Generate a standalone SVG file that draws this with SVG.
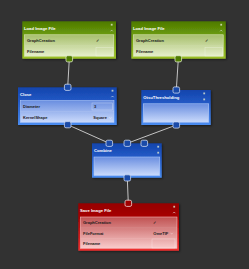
<svg xmlns="http://www.w3.org/2000/svg" width="249" height="269" viewBox="0 0 249 269">
<defs>
<linearGradient id="gFrame" x1="0" y1="0" x2="0" y2="1"><stop offset="0" stop-color="#4d7a00"/><stop offset="0.35" stop-color="#6a9a0c"/><stop offset="1" stop-color="#9cc028"/></linearGradient>
<linearGradient id="gPanel" x1="0" y1="0" x2="0" y2="1"><stop offset="0" stop-color="#a7bf6c"/><stop offset="1" stop-color="#e6efcc"/></linearGradient>
<linearGradient id="bFrame" x1="0" y1="0" x2="0" y2="1"><stop offset="0" stop-color="#1244ac"/><stop offset="0.35" stop-color="#2258c4"/><stop offset="1" stop-color="#4a8cf0"/></linearGradient>
<linearGradient id="bPanel" x1="0" y1="0" x2="0" y2="1"><stop offset="0" stop-color="#6a8ee0"/><stop offset="1" stop-color="#cadafb"/></linearGradient>
<linearGradient id="rFrame" x1="0" y1="0" x2="0" y2="1"><stop offset="0" stop-color="#960000"/><stop offset="0.3" stop-color="#a80404"/><stop offset="1" stop-color="#f03030"/></linearGradient>
<linearGradient id="rPanel" x1="0" y1="0" x2="0" y2="1"><stop offset="0" stop-color="#c05252"/><stop offset="1" stop-color="#f9cccc"/></linearGradient>
<filter id="sh" x="-10%" y="-10%" width="130%" height="130%"><feDropShadow dx="1" dy="1" stdDeviation="1" flood-color="#000" flood-opacity="0.5"/></filter>
</defs>
<style>
.title{font-family:"Liberation Sans",Arial,sans-serif;font-size:4.2px;font-weight:bold;fill:#fff}
.lbl{font-family:"Liberation Sans",Arial,sans-serif;font-size:4px;font-weight:bold;fill:#1a1a1a}
.val{font-family:"Liberation Sans",Arial,sans-serif;font-size:4px;font-weight:bold;fill:#1a1a1a}
.ico{fill:#dfe6d0;opacity:0.8}
.wire{stroke:#c4c4c4;stroke-width:1;fill:none}
.gp{fill:#4f7c02;stroke:#dfe8cc;stroke-width:0.8}
.bp{fill:#1a4aa8;stroke:#cdd9f0;stroke-width:0.8}
.rp{fill:#a00000;stroke:#f0d6d6;stroke-width:0.8}
.gpn{fill:url(#gPanel);stroke:#dfeabf;stroke-width:0.6}
.bpn{fill:url(#bPanel);stroke:#b0c8f8;stroke-width:0.6}
.rpn{fill:url(#rPanel);stroke:#f4b8b8;stroke-width:0.6}
.box{fill:none;stroke:#ffffff;stroke-opacity:0.5;stroke-width:0.5}
</style>
<rect width="249" height="269" fill="#323232"/>
<g id="connectors">
<line class="wire" x1="69.3" y1="59" x2="67.7" y2="87.3"/>
<line class="wire" x1="178.3" y1="59" x2="176.3" y2="90"/>
<line class="wire" x1="67.7" y1="124.7" x2="109.3" y2="143.3"/>
<line class="wire" x1="176.3" y1="125" x2="127.3" y2="143.3"/>
<line class="wire" x1="127.3" y1="178" x2="128.3" y2="203.3"/>
</g>
<g id="load1">
<rect x="22.3" y="21.3" width="93.7" height="37.4" fill="url(#gFrame)" filter="url(#sh)"/>
<rect x="24.5" y="34.8" width="89.3" height="21.4" class="gpn"/>
<text class="title" x="24" y="30.2">Load Image File</text>
<rect class="ico" x="110.8" y="23.8" width="1.8" height="1.8"/>
<path d="M110.6 31.3 L111.7 30.1 L112.8 31.3" stroke="#dfe6d0" stroke-width="0.6" fill="none"/>
<text class="lbl" x="27" y="41.9">GraphCreation</text>
<text class="val" x="96" y="41.9">✓</text>
<line x1="24.5" y1="45.8" x2="113.8" y2="45.8" stroke="#ffffff" stroke-opacity="0.25" stroke-width="0.4"/>
<text class="lbl" x="27" y="53.2">Filename</text>
<rect class="box" x="96" y="47.5" width="17" height="8.5"/>
<rect class="gp" x="66" y="55.7" width="6.6" height="6.2" rx="1.6"/>
</g>
<g id="load2">
<rect x="131.3" y="21.3" width="94.4" height="37.4" fill="url(#gFrame)" filter="url(#sh)"/>
<rect x="133.5" y="34.8" width="89.7" height="21.4" class="gpn"/>
<text class="title" x="133" y="30.2">Load Image File</text>
<rect class="ico" x="220.3" y="23.8" width="1.8" height="1.8"/>
<path d="M220.1 31.3 L221.2 30.1 L222.3 31.3" stroke="#dfe6d0" stroke-width="0.6" fill="none"/>
<text class="lbl" x="136" y="41.9">GraphCreation</text>
<text class="val" x="205" y="41.9">✓</text>
<line x1="133.5" y1="45.8" x2="223.2" y2="45.8" stroke="#ffffff" stroke-opacity="0.25" stroke-width="0.4"/>
<text class="lbl" x="136" y="53.2">Filename</text>
<rect class="box" x="205" y="47.5" width="17.5" height="8.5"/>
<rect class="gp" x="175" y="55.7" width="6.6" height="6.2" rx="1.6"/>
</g>
<g id="close">
<rect x="18" y="87.3" width="98.7" height="37.7" fill="url(#bFrame)" filter="url(#sh)"/>
<rect x="20.3" y="100.5" width="93.7" height="21.8" class="bpn"/>
<text class="title" x="20" y="96.1">Close</text>
<rect class="ico" x="111.6" y="89.8" width="1.8" height="1.8"/>
<path d="M111.4 97.2 L112.5 96 L113.6 97.2" stroke="#dfe6f4" stroke-width="0.6" fill="none"/>
<text class="lbl" x="23" y="108.1">Diameter</text>
<rect class="box" x="92" y="103" width="20.7" height="7"/>
<text class="val" x="94" y="108.1">3</text>
<line x1="20.3" y1="111.6" x2="114" y2="111.6" stroke="#ffffff" stroke-opacity="0.25" stroke-width="0.4"/>
<text class="lbl" x="23" y="119.1">KernelShape</text>
<text class="val" x="93.3" y="119.1">Square</text>
<path d="M109.3 117.2 L110.4 118.6 L111.5 117.2" stroke="#ffffff" stroke-opacity="0.6" stroke-width="0.5" fill="none"/>
<rect class="bp" x="64.4" y="84.2" width="6.6" height="6.2" rx="1.6"/>
<rect class="bp" x="64.4" y="121.6" width="6.6" height="6.2" rx="1.6"/>
</g>
<g id="otsu">
<rect x="141.3" y="90" width="69.4" height="35" fill="url(#bFrame)" filter="url(#sh)"/>
<rect x="143.3" y="103.8" width="65.4" height="18.4" class="bpn"/>
<text class="title" x="143.3" y="99.4">OtsuThresholding</text>
<rect class="ico" x="203.3" y="92.5" width="1.8" height="1.8"/>
<rect class="ico" x="203.3" y="98.5" width="1.8" height="1.8"/>
<rect class="bp" x="173" y="86.9" width="6.6" height="6.2" rx="1.6"/>
<rect class="bp" x="173" y="121.9" width="6.6" height="6.2" rx="1.6"/>
</g>
<g id="combine">
<rect x="92" y="143.3" width="69.7" height="34.4" fill="url(#bFrame)" filter="url(#sh)"/>
<rect x="94" y="157" width="65.7" height="18.5" class="bpn"/>
<text class="title" x="94" y="152.2">Combine</text>
<rect class="ico" x="157.3" y="145.8" width="1.8" height="1.8"/>
<rect class="ico" x="157.3" y="151.8" width="1.8" height="1.8"/>
<rect class="bp" x="106" y="140.2" width="6.6" height="6.2" rx="1.6"/>
<rect class="bp" x="124" y="140.2" width="6.6" height="6.2" rx="1.6"/>
<rect class="bp" x="141" y="140.2" width="6.6" height="6.2" rx="1.6"/>
<rect class="bp" x="124" y="174.8" width="6.6" height="6.2" rx="1.6"/>
</g>
<g id="save">
<rect x="78.3" y="203.3" width="100.7" height="47.4" fill="url(#rFrame)" filter="url(#sh)"/>
<rect x="80.3" y="217" width="96.7" height="31.3" class="rpn"/>
<text class="title" x="80" y="212.2">Save Image File</text>
<rect class="ico" x="173.3" y="205.8" width="1.8" height="1.8"/>
<path d="M173.1 213.2 L174.2 212 L175.3 213.2" stroke="#f4dede" stroke-width="0.6" fill="none"/>
<text class="lbl" x="83" y="223.7">GraphCreation</text>
<text class="val" x="152.5" y="223.7">✓</text>
<line x1="80.3" y1="227.8" x2="177" y2="227.8" stroke="#ffffff" stroke-opacity="0.25" stroke-width="0.4"/>
<text class="lbl" x="83" y="234.7">FileFormat</text>
<text class="val" x="153.3" y="234.7">OmeTIF</text>
<path d="M170.6 232.8 L171.7 234.2 L172.8 232.8" stroke="#ffffff" stroke-opacity="0.6" stroke-width="0.5" fill="none"/>
<line x1="80.3" y1="238.4" x2="177" y2="238.4" stroke="#ffffff" stroke-opacity="0.25" stroke-width="0.4"/>
<text class="lbl" x="83" y="245.1">Filename</text>
<rect class="box" x="152" y="239" width="23" height="9"/>
<rect class="rp" x="125" y="200.2" width="6.6" height="6.2" rx="1.6"/>
</g>
</svg>
